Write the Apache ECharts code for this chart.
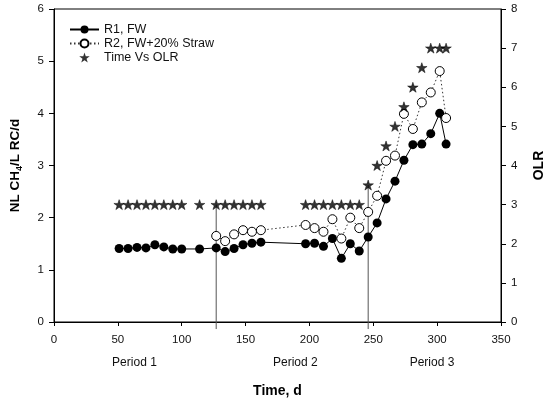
<!DOCTYPE html>
<html>
<head>
<meta charset="utf-8">
<script src="https://cdn.jsdelivr.net/npm/echarts/dist/echarts.min.js"></script>
<style>html,body{margin:0;padding:0;background:#fff;}#c{width:550px;height:399px;}</style>
</head>
<body>
<div id="c"></div>
<script>
// ---- data ----
const r1Days = [51,58,65,72,79,86,93,100,114,127,134,141,148,155,162,197,204,211,218,225,232,239,246,253,260,267,274,281,288,295,302,307];
const r1Values = [1.41,1.41,1.43,1.42,1.48,1.44,1.40,1.40,1.40,1.42,1.35,1.41,1.48,1.51,1.53,1.50,1.51,1.45,1.60,1.22,1.50,1.36,1.63,1.90,2.36,2.70,3.10,3.40,3.41,3.61,4.00,3.41];
const r2Days = [127,134,141,148,155,162,197,204,211,218,225,232,239,246,253,260,267,274,281,288,295,302,307];
const r2Values = [1.65,1.55,1.68,1.76,1.73,1.76,1.86,1.80,1.73,1.97,1.60,2.00,1.80,2.11,2.42,3.09,3.19,3.99,3.70,4.21,4.40,4.81,3.91];
const olrDays = [51,58,65,72,79,86,93,100,114,127,134,141,148,155,162,197,204,211,218,225,232,239,246,253,260,267,274,281,288,295,302,307];
const olrValues = [3,3,3,3,3,3,3,3,3,3,3,3,3,3,3,3,3,3,3,3,3,3,3.5,4,4.5,5,5.5,6,6.5,7,7,7];
const boundaryDays = [127, 246];
const boundaryTop = [3, 3.5];
const boundaryBottom = -0.18;
const periodLabels = ['Period 1', 'Period 2', 'Period 3'];
const periodLabelDays = [63, 189, 296];
const seriesNames = ['R1, FW', 'R2, FW+20% Straw', 'Time Vs OLR'];

const FONT = 'Liberation Sans, Arial, sans-serif';
const STAR = 'path://M50,0 L61.8,36.2 L100,36.2 L69.1,58.6 L80.9,95.1 L50,72.7 L19.1,95.1 L30.9,58.6 L0,36.2 L38.2,36.2 Z';

const chart = echarts.init(document.getElementById('c'), null, {renderer: 'canvas'});

const boundarySeries = boundaryDays.map((d, i) => ({
  type: 'line',
  yAxisIndex: 1,
  data: [[d, boundaryBottom], [d, boundaryTop[i]]],
  symbol: 'none',
  clip: false,
  silent: true,
  lineStyle: {color: '#555', width: 1},
  z: 1
}));

const option = {
  animation: false,
  backgroundColor: '#fff',
  textStyle: {fontFamily: FONT},
  grid: {left: 54, right: 49, top: 9, bottom: 77, containLabel: false, outerBoundsMode: 'none',
    show: true, borderColor: '#000', borderWidth: 1, backgroundColor: 'transparent'},
  legend: {
    orient: 'vertical',
    left: 64,
    top: 18,
    itemWidth: 29,
    itemHeight: 10,
    itemGap: 1,
    data: [
      seriesNames[0],
      seriesNames[1],
      {name: seriesNames[2], icon: STAR, itemStyle: {color: '#000', borderWidth: 0}}
    ],
    textStyle: {fontFamily: FONT, fontSize: 12.5, color: '#111'}
  },
  xAxis: {
    type: 'value',
    min: 0, max: 350, interval: 50,
    name: 'Time, d',
    nameLocation: 'middle',
    nameGap: 62,
    nameTextStyle: {fontFamily: FONT, fontSize: 14, fontWeight: 'bold', color: '#000'},
    axisLine: {show: true, lineStyle: {color: '#000', width: 1}},
    axisTick: {show: true, inside: false, length: 4, lineStyle: {color: '#000'}},
    axisLabel: {fontFamily: FONT, fontSize: 11.5, color: '#111', margin: 12},
    splitLine: {show: false}
  },
  yAxis: [{
    type: 'value',
    min: 0, max: 6, interval: 1,
    name: 'NL CH{sub|4}/L RC/d',
    nameLocation: 'middle',
    nameGap: 30,
    nameTextStyle: {fontFamily: FONT, fontSize: 13.5, fontWeight: 'bold', color: '#000',
      rich: {sub: {fontFamily: FONT, fontSize: 9, fontWeight: 'bold', color: '#000', verticalAlign: 'bottom', padding: [8, 0, 0, 0]}}},
    axisLine: {show: true, lineStyle: {color: '#000', width: 1}},
    axisTick: {show: true, inside: false, length: 5, lineStyle: {color: '#000'}},
    axisLabel: {fontFamily: FONT, fontSize: 11.5, color: '#111', margin: 10},
    splitLine: {show: false}
  }, {
    type: 'value',
    min: 0, max: 8, interval: 1,
    position: 'right',
    name: 'OLR',
    nameLocation: 'middle',
    nameGap: 31,
    nameTextStyle: {fontFamily: FONT, fontSize: 14, fontWeight: 'bold', color: '#000'},
    axisLine: {show: true, lineStyle: {color: '#000', width: 1}},
    axisTick: {show: true, inside: false, length: 5, lineStyle: {color: '#000'}},
    axisLabel: {fontFamily: FONT, fontSize: 11.5, color: '#111', margin: 10},
    splitLine: {show: false}
  }],
  series: [
    ...boundarySeries,
    {
      name: seriesNames[0],
      type: 'line',
      yAxisIndex: 0,
      data: r1Days.map((d, i) => [d, r1Values[i]]),
      symbol: 'circle',
      symbolSize: 9,
      showAllSymbol: true,
      itemStyle: {color: '#000'},
      lineStyle: {color: '#000', width: 1},
      z: 3
    },
    {
      name: seriesNames[1],
      type: 'line',
      yAxisIndex: 0,
      data: r2Days.map((d, i) => [d, r2Values[i]]),
      symbol: 'circle',
      symbolSize: 9,
      showAllSymbol: true,
      itemStyle: {color: '#fff', borderColor: '#000', borderWidth: 1},
      lineStyle: {color: '#333', width: 1, type: [1.5, 2.5]},
      z: 4
    },
    {
      name: seriesNames[2],
      type: 'scatter',
      yAxisIndex: 1,
      data: olrDays.map((d, i) => [d, olrValues[i]]),
      symbol: STAR,
      symbolSize: 10.5,
      symbolKeepAspect: true,
      itemStyle: {color: '#000', borderColor: '#000', borderWidth: 0.6},
      z: 5
    }
  ]
};
chart.setOption(option);

const yPix = chart.convertToPixel({yAxisIndex: 0}, 0) + 41;
chart.setOption({
  graphic: periodLabels.map((t, i) => ({
    type: 'text',
    x: chart.convertToPixel({xAxisIndex: 0}, periodLabelDays[i]),
    y: yPix,
    style: {text: t, font: '12px ' + FONT, fill: '#111', align: 'center', verticalAlign: 'middle'}
  }))
});
</script>
</body>
</html>
